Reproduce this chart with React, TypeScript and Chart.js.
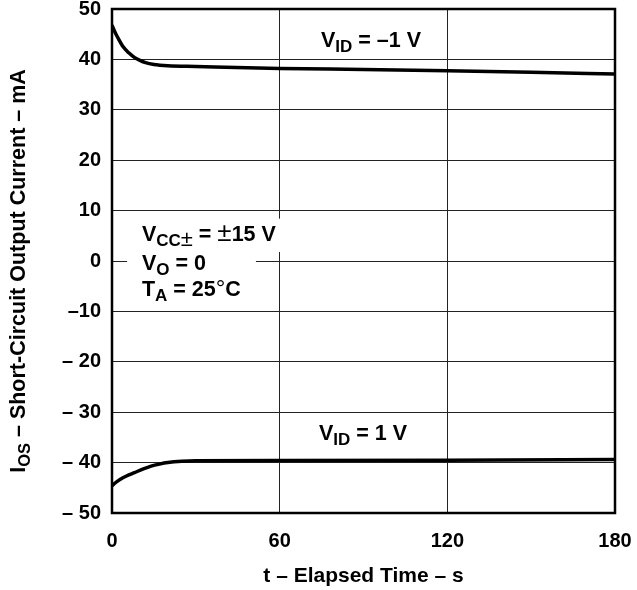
import React, { useEffect, useRef } from 'react';
import { Chart, registerables } from 'chart.js';
Chart.register(...registerables);

// Elapsed time (s) and short-circuit output current (mA)
const upperTime = [0, 1, 2, 4, 6, 8, 10, 12, 15, 20, 30, 60, 90, 120, 150, 180];
const upperCurrent = [46.8, 45.5, 44.4, 42.5, 41.3, 40.4, 39.8, 39.35, 39.0, 38.75, 38.6, 38.2, 38.0, 37.75, 37.45, 37.1];
const lowerTime = [0, 1, 3, 5, 8, 11, 14, 17, 20, 25, 30, 60, 120, 180];
const lowerCurrent = [-44.6, -44.1, -43.3, -42.7, -42.0, -41.3, -40.7, -40.3, -40.0, -39.75, -39.65, -39.6, -39.55, -39.4];

const xTicks = [0, 60, 120, 180];
const xTickLabels = ['0', '60', '120', '180'];
const yTicks = [50, 40, 30, 20, 10, 0, -10, -20, -30, -40, -50];
const yTickLabels = ['50', '40', '30', '20', '10', '0', '–10', '– 20', '– 30', '– 40', '– 50'];

const FONT = '"Liberation Sans", Arial, sans-serif';

type Seg = { t: string; sub?: boolean; thin?: boolean; size?: number };

function segFont(s: Seg, size: number, subSize: number) {
  const sz = s.size ?? (s.sub ? subSize : size);
  return `${s.thin ? 'normal' : 'bold'} ${sz}px ${FONT}`;
}

function drawRich(ctx: CanvasRenderingContext2D, segs: Seg[], x: number, y: number, align: 'left' | 'center', size = 21.5, subSize = 17, subDrop = 5) {
  ctx.save();
  ctx.textBaseline = 'alphabetic';
  ctx.textAlign = 'left';
  let total = 0;
  for (const s of segs) {
    ctx.font = segFont(s, size, subSize);
    total += ctx.measureText(s.t).width;
  }
  let cx = align === 'center' ? x - total / 2 : x;
  ctx.fillStyle = '#000';
  for (const s of segs) {
    ctx.font = segFont(s, size, subSize);
    ctx.fillText(s.t, cx, y + (s.sub ? subDrop : 0));
    cx += ctx.measureText(s.t).width;
  }
  ctx.restore();
}

const annotPlugin = {
  id: 'annot',
  afterDraw(chart: any) {
    const { ctx, chartArea, scales } = chart;
    const xs = scales.x, ys = scales.y;
    // white label background over grid
    ctx.save();
    ctx.fillStyle = '#fff';
    const bx0 = xs.getPixelForValue(5.4), bx1 = xs.getPixelForValue(51.5);
    const by0 = ys.getPixelForValue(8.9), by1 = ys.getPixelForValue(-9.3);
    ctx.fillRect(bx0, by0, bx1 - bx0, by1 - by0);
    const cx1 = xs.getPixelForValue(61.5), cy1 = ys.getPixelForValue(1.8), cy0 = ys.getPixelForValue(8.4);
    ctx.fillRect(bx1 - 1, cy0, cx1 - bx1 + 1, cy1 - cy0);
    ctx.restore();

    // condition text
    const lx = xs.getPixelForValue(10.7);
    const l1 = ys.getPixelForValue(4.0);
    drawRich(ctx, [{ t: 'V' }, { t: 'CC', sub: true }, { t: '±', sub: true, thin: true, size: 22 }, { t: ' = ' }, { t: '±', thin: true, size: 26 }, { t: '15 V' }], lx, l1, 'left');
    drawRich(ctx, [{ t: 'V' }, { t: 'O', sub: true }, { t: ' = 0' }], lx, l1 + 29, 'left');
    drawRich(ctx, [{ t: 'T' }, { t: 'A', sub: true }, { t: ' = 25' }, { t: '°', thin: true, size: 24 }, { t: 'C' }], lx, l1 + 55, 'left');

    // curve labels
    drawRich(ctx, [{ t: 'V' }, { t: 'ID', sub: true }, { t: ' = –1 V' }], xs.getPixelForValue(92.7), ys.getPixelForValue(42.5), 'center');
    drawRich(ctx, [{ t: 'V' }, { t: 'ID', sub: true }, { t: ' = 1 V' }], xs.getPixelForValue(89.8), ys.getPixelForValue(-35.5), 'center');

    // frame
    ctx.save();
    ctx.strokeStyle = '#000';
    ctx.lineWidth = 2.5;
    ctx.strokeRect(chartArea.left, chartArea.top, chartArea.right - chartArea.left, chartArea.bottom - chartArea.top);
    ctx.restore();

    // axis titles
    const midX = (chartArea.left + chartArea.right) / 2;
    drawRich(ctx, [{ t: 't – Elapsed Time – s' }], midX, 582, 'center', 21, 16);
    ctx.save();
    ctx.translate(25, 271);
    ctx.rotate(-Math.PI / 2);
    drawRich(ctx, [{ t: 'I' }, { t: 'OS', sub: true }, { t: ' – Short-Circuit Output Current – mA' }], 0, 0, 'center', 21.5, 16.5, 5);
    ctx.restore();
  },
};

function zeroPad(s: any) {
  s.paddingTop = 0;
  s.paddingBottom = 0;
  s.paddingLeft = 0;
  s.paddingRight = 0;
}

export default function App() {
  const ref = useRef<HTMLCanvasElement>(null);
  useEffect(() => {
    if (!ref.current) return;
    const chart = new Chart(ref.current, {
      type: 'line',
      data: {
        datasets: [
          {
            data: upperTime.map((t, i) => ({ x: t, y: upperCurrent[i] })),
            borderColor: '#000',
            borderWidth: 3.5,
            pointRadius: 0,
            cubicInterpolationMode: 'monotone',
            fill: false,
          },
          {
            data: lowerTime.map((t, i) => ({ x: t, y: lowerCurrent[i] })),
            borderColor: '#000',
            borderWidth: 3.5,
            pointRadius: 0,
            cubicInterpolationMode: 'monotone',
            fill: false,
          },
        ],
      },
      options: {
        responsive: false,
        animation: false,
        devicePixelRatio: 1,
        layout: { padding: { top: 9, right: 22, left: 0, bottom: 0 } },
        plugins: { legend: { display: false }, tooltip: { enabled: false }, title: { display: false } },
        scales: {
          x: {
            type: 'linear',
            min: 0,
            max: 180,
            afterBuildTicks: (s: any) => { s.ticks = xTicks.map((v) => ({ value: v })); },
            afterFit: (s: any) => { s.height = 77; zeroPad(s); },
            ticks: {
              autoSkip: false,
              maxRotation: 0,
              padding: 16,
              color: '#000',
              font: { family: FONT, size: 20, weight: 'bold' },
              callback: (v: any) => xTickLabels[xTicks.indexOf(Number(v))] ?? '',
            },
            grid: { color: '#222', lineWidth: 1, drawTicks: false },
            border: { display: false },
          },
          y: {
            type: 'linear',
            min: -50,
            max: 50,
            afterBuildTicks: (s: any) => { s.ticks = yTicks.map((v) => ({ value: v })); },
            afterFit: (s: any) => { s.width = 112; zeroPad(s); },
            ticks: {
              autoSkip: false,
              padding: 11,
              color: '#000',
              font: { family: FONT, size: 20, weight: 'bold' },
              callback: (v: any) => yTickLabels[yTicks.indexOf(Number(v))] ?? '',
            },
            grid: { color: '#222', lineWidth: 1, drawTicks: false },
            border: { display: false },
          },
        },
      },
      plugins: [annotPlugin],
    } as any);
    return () => chart.destroy();
  }, []);
  return (
    <div style={{ position: 'fixed', left: 0, top: 0, width: 637, height: 590, background: '#fff' }}>
      <canvas ref={ref} width={637} height={590} style={{ width: 637, height: 590, display: 'block' }} />
    </div>
  );
}
